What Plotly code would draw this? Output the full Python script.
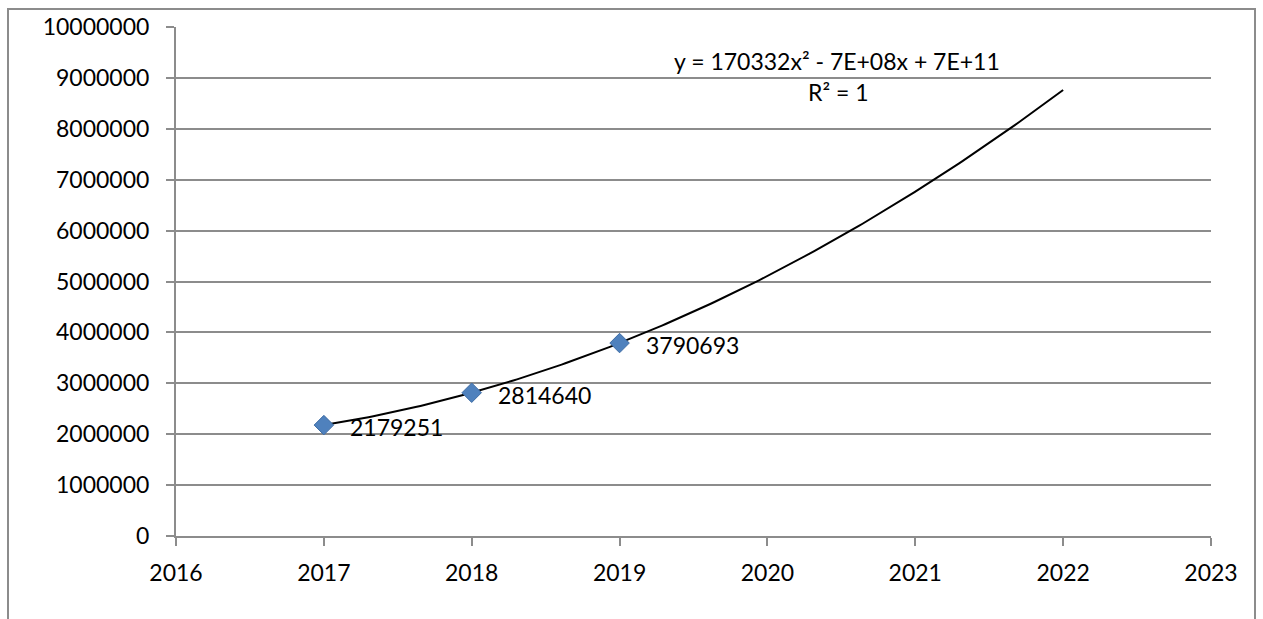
import numpy as np
import plotly.graph_objects as go

# ---- data ----
years = [2017, 2018, 2019]
values = [2179251, 2814640, 3790693]
x_ticks = [2016, 2017, 2018, 2019, 2020, 2021, 2022, 2023]
y_ticks = [0, 1000000, 2000000, 3000000, 4000000, 5000000,
           6000000, 7000000, 8000000, 9000000, 10000000]
forecast_end = 2022

# ---- quadratic trendline ----
coef = np.polyfit(years, values, 2)
tx = np.linspace(years[0], forecast_end, 200)
ty = np.polyval(coef, tx)
a, b, c = coef
sign_b = "-" if b < 0 else "+"
sign_c = "-" if c < 0 else "+"
eq_text = f"y = {a:.0f}x² {sign_b} {abs(b):.0E}x {sign_c} {abs(c):.0E}"
r2 = 1 - np.sum((np.array(values) - np.polyval(coef, years)) ** 2) / np.sum(
    (np.array(values) - np.mean(values)) ** 2)
r2_text = f"R² = {r2:.0f}"

FONT = "Lato, 'Open Sans', Arial, sans-serif"
GRID = "#8c8c8c"

fig = go.Figure()
fig.add_trace(go.Scatter(x=tx, y=ty, mode="lines",
                         line=dict(color="black", width=2),
                         hoverinfo="skip", showlegend=False))
fig.add_trace(go.Scatter(x=years, y=values, mode="markers",
                         marker=dict(symbol="diamond", size=15, color="#4f81bd",
                                     line=dict(color="#3f6da5", width=1)),
                         showlegend=False))

annotations = []
for xv, yv in zip(years, values):
    annotations.append(dict(x=xv, y=yv, xref="x", yref="y", text=str(yv),
                            showarrow=False, xanchor="left", yanchor="middle",
                            xshift=24, yshift=-2,
                            font=dict(family=FONT, size=23, color="black")))

W, H = 1263, 619
L, R, T, B = 176, 52, 24, 83
pw, ph = W - L - R, H - T - B

annotations.append(dict(x=(837 - L) / pw, y=(H - B - 58) / ph, xref="paper", yref="paper",
                        text=eq_text, showarrow=False, xanchor="center",
                        yanchor="middle", font=dict(family=FONT, size=23, color="black")))
annotations.append(dict(x=(838 - L) / pw, y=(H - B - 89) / ph, xref="paper", yref="paper",
                        text=r2_text, showarrow=False, xanchor="center",
                        yanchor="middle", font=dict(family=FONT, size=23, color="black")))

fig.update_layout(
    width=W, height=H,
    margin=dict(l=L, r=R, t=T, b=B),
    paper_bgcolor="white", plot_bgcolor="white",
    annotations=annotations,
    shapes=[dict(type="rect", xref="paper", yref="paper",
                 x0=(8 - L) / pw, x1=(1255 - L) / pw,
                 y0=(H - B - 640) / ph, y1=(H - B - 6) / ph,
                 line=dict(color="#8c8c8c", width=2), fillcolor="rgba(0,0,0,0)",
                 layer="below")],
)
fig.update_xaxes(range=[2016, 2023], tickvals=x_ticks, ticktext=[str(v) for v in x_ticks],
                 showgrid=False, zeroline=False, showline=True, linecolor=GRID, linewidth=2,
                 ticks="outside", ticklen=8, tickcolor=GRID, tickwidth=2,
                 tickfont=dict(family=FONT, size=23, color="black"),
                 ticklabelstandoff=7)
fig.update_yaxes(range=[0, 10000000], tickvals=y_ticks, ticktext=[str(v) for v in y_ticks],
                 showgrid=True, gridcolor=GRID, gridwidth=2, zeroline=False,
                 showline=True, linecolor=GRID, linewidth=2,
                 ticks="outside", ticklen=8, tickcolor=GRID, tickwidth=2,
                 tickfont=dict(family=FONT, size=23, color="black"),
                 ticklabelstandoff=12)

fig.write_html("out.html")
